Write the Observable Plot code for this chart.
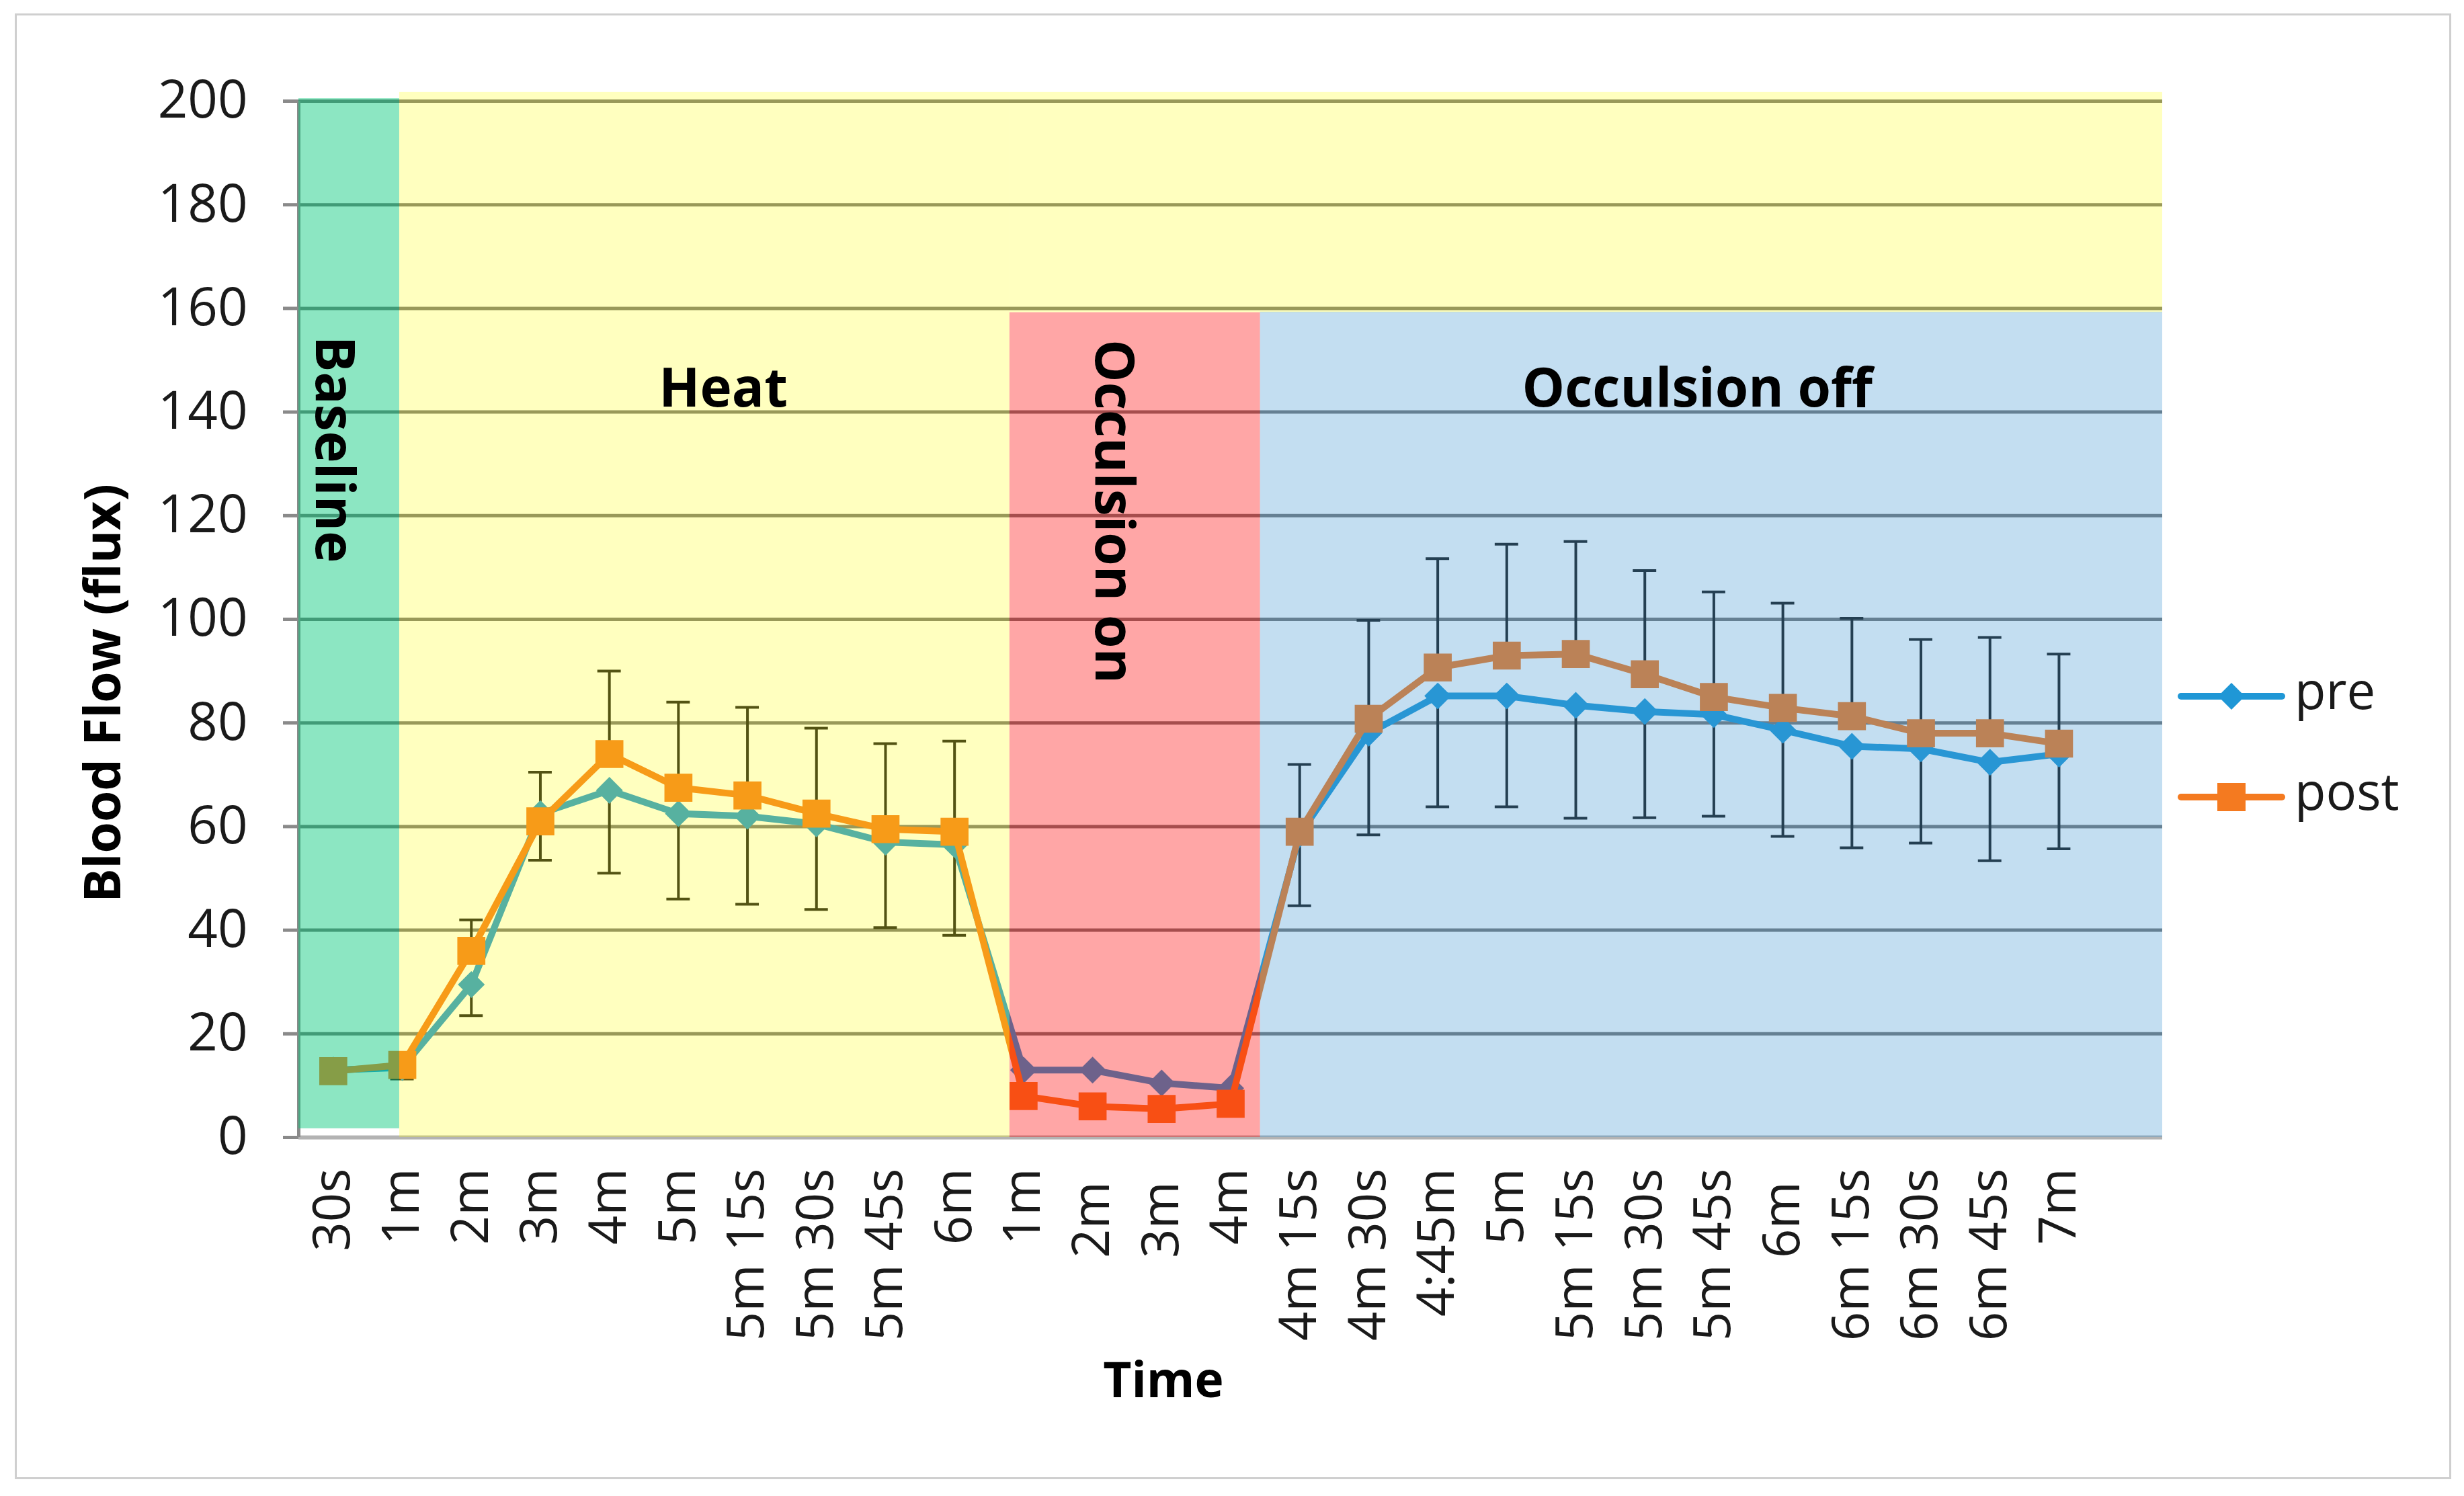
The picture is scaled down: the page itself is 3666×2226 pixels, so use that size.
<!DOCTYPE html>
<html>
<head>
<meta charset="utf-8">
<script src="https://cdn.jsdelivr.net/npm/d3@7"></script>
<script src="https://cdn.jsdelivr.net/npm/@observablehq/plot@0.6"></script>
<style>
  html, body { margin: 0; padding: 0; background: #fff; }
  #wrap { position: relative; width: 3666px; height: 2226px; font-family: "Open Sans", sans-serif; }
  #frame { position: absolute; left: 22px; top: 20px; width: 3625px; height: 2181px; border: 3px solid #cfcfcf; box-sizing: border-box; }
  #legend { position: absolute; left: 3235px; top: 960px; }
</style>
</head>
<body>
<div id="wrap">
  <div id="chart"></div>
  <div id="legend"></div>
  <div id="frame"></div>
</div>
<script>
// tick labels of the time axis (a nbsp mimics the trailing space of the original labels)
const timeLabels = ["30s", "1m", "2m", "3m", "4m", "5m", "5m 15s", "5m 30s", "5m 45s", "6m",
  "1m", "2m\u00a0", "3m\u00a0", "4m", "4m 15s", "4m 30s", "4:45m", "5m", "5m 15s", "5m 30s",
  "5m 45s", "6m\u00a0", "6m 15s", "6m 30s", "6m 45s", "7m"];

// mean blood flow
const pre  = [13, 13.5, 29.5, 62.5, 67, 62.5, 62, 60.5, 57, 56.5,
  13, 13, 10.5, 9.5, 58.5, 78, 85.2, 85.2, 83.4, 82.2, 81.6, 78.6, 75.5, 75, 72.4, 74];
const post = [12.8, 14, 36, 61, 74, 67.5, 66, 62.5, 59.5, 59,
  8, 6, 5.5, 6.5, 59, 80.8, 90.7, 93, 93.3, 89.4, 85, 82.9, 81.3, 78, 78, 76];

// error bars: pre drawn downwards, post drawn upwards
const preLow   = [12, 11.3, 23.5, 53.5, 51, 46, 45, 44, 40.5, 39,
  null, null, null, null, 44.7, 58.4, 63.8, 63.8, 61.6, 61.7, 62, 58.1, 55.9, 56.8, 53.4, 55.7];
const postHigh = [14, 15.5, 42, 70.5, 90, 84, 83, 79, 76, 76.5,
  null, null, null, null, 72, 99.8, 111.7, 114.5, 115, 109.4, 105.3, 103.1, 100.2, 96.1, 96.5, 93.3];

const seriesNames = ["pre", "post"];
const yTicks = [0, 20, 40, 60, 80, 100, 120, 140, 160, 180, 200];

// shaded phases, in data units (x = time index, y = flux)
const bandNames = ["Baseline", "Heat", "Heat", "Occulsion on", "Occulsion off"];
const bandX1 = [-0.5, 0.96, 9.8, 9.8, 13.43];
const bandX2 = [0.96, 9.8, 26.5, 13.43, 26.5];
const bandY1 = [1.7, 0, 159.2, 0, 0];
const bandY2 = [200.5, 201.7, 201.7, 159.2, 159.3];

const phaseLabels = ["Baseline", "Heat", "Occulsion on", "Occulsion off"];
const phaseLabelX = [0, 5.65, 11.29, 19.76];
const phaseLabelY = [132.8, 144.4, 120.8, 144.4];

const colors = {pre: "#1f97d6", post: "#f47a20"};
const bandStyle = {
  "Baseline":      {fill: "#00c878", opacity: 0.45},
  "Heat":          {fill: "#ffff00", opacity: 0.25},
  "Occulsion on":  {fill: "#ff0000", opacity: 0.35},
  "Occulsion off": {fill: "#3c96d2", opacity: 0.31}
};
const verticalLabels = new Set(["Baseline", "Occulsion on"]);

const points = timeLabels.map((t, i) => ({i, t, pre: pre[i], post: post[i], lo: preLow[i], hi: postHigh[i]}));
const bars = points.filter(d => d.lo != null);
const bands = bandNames.map((name, k) => ({name, x1: bandX1[k], x2: bandX2[k], y1: bandY1[k], y2: bandY2[k]}));
const labels = phaseLabels.map((text, k) => ({text, x: phaseLabelX[k], y: phaseLabelY[k]}));

const capHalf = 0.17;
const errColor = "#1a1a1a";

const plot = Plot.plot({
  width: 3666,
  height: 2226,
  marginLeft: 444,
  marginRight: 449,
  marginTop: 150,
  marginBottom: 534,
  style: {fontFamily: '"Open Sans", sans-serif', fontSize: "76px", color: "#1a1a1a", background: "transparent"},
  x: {domain: [-0.5, 26.5], axis: null},
  y: {domain: [0, 200], axis: null},
  marks: [
    // grid
    Plot.ruleY(yTicks.filter(d => d > 0), {x1: -0.5, x2: 26.5, stroke: "#777", strokeWidth: 5}),
    Plot.ruleY([0], {x1: -0.5, x2: 26.5, stroke: "#b3b3b3", strokeWidth: 6}),
    Plot.ruleX([-0.5], {y1: 0, y2: 200, stroke: "#8a8a8a", strokeWidth: 5}),
    Plot.axisY({ticks: yTicks, tickSize: 23, tickPadding: 53, stroke: "#8a8a8a", strokeWidth: 5, fontSize: 78, label: null}),
    Plot.axisX({ticks: d3.range(timeLabels.length), tickFormat: i => timeLabels[i], tickRotate: -90,
      tickSize: 0, tickPadding: 46, fontSize: 76, label: null}),

    // error bars
    Plot.ruleX(bars, {x: "i", y1: "pre", y2: "lo", stroke: errColor, strokeWidth: 4}),
    Plot.ruleY(bars, {y: "lo", x1: d => d.i - capHalf, x2: d => d.i + capHalf, stroke: errColor, strokeWidth: 4}),
    Plot.ruleX(bars, {x: "i", y1: "post", y2: "hi", stroke: errColor, strokeWidth: 4}),
    Plot.ruleY(bars, {y: "hi", x1: d => d.i - capHalf, x2: d => d.i + capHalf, stroke: errColor, strokeWidth: 4}),

    // series
    Plot.line(points, {x: "i", y: "pre", stroke: colors.pre, strokeWidth: 10}),
    Plot.dot(points, {x: "i", y: "pre", symbol: "diamond2", r: 18, fill: colors.pre, stroke: "none"}),
    Plot.line(points, {x: "i", y: "post", stroke: colors.post, strokeWidth: 10}),
    Plot.dot(points, {x: "i", y: "post", symbol: "square", r: 23.5, fill: colors.post, stroke: "none"}),

    // translucent phase overlays lie on top of the data, as in the original
    ...bands.map(b => Plot.rect([b], {x1: "x1", x2: "x2", y1: "y1", y2: "y2",
      fill: bandStyle[b.name].fill, fillOpacity: bandStyle[b.name].opacity})),

    // phase names
    Plot.text(labels.filter(d => !verticalLabels.has(d.text)), {x: "x", y: "y", text: "text",
      fontSize: 80, fontWeight: "bold", fill: "#000"}),
    Plot.text(labels.filter(d => verticalLabels.has(d.text)), {x: "x", y: "y", text: "text", rotate: 90,
      fontSize: 80, fontWeight: "bold", fill: "#000"}),

    // axis titles
    Plot.text(["Blood Flow (flux)"], {frameAnchor: "left", textAnchor: "middle", lineAnchor: "middle",
      dx: -290, dy: 110, rotate: -90, fontSize: 75, fontWeight: "bold", fill: "#000"}),
    Plot.text(["Time"], {frameAnchor: "bottom", textAnchor: "middle", lineAnchor: "middle",
      dx: -100, dy: 363, fontSize: 73, fontWeight: "bold", fill: "#000"})
  ]
});

document.getElementById("chart").appendChild(plot);

// legend on the right
const legend = d3.select("#legend").append("svg").attr("width", 420).attr("height", 280)
  .style("font-family", '"Open Sans", sans-serif');
seriesNames.forEach((name, k) => {
  const g = legend.append("g").attr("transform", `translate(0,${76 + k * 150})`);
  g.append("line").attr("x1", 10).attr("x2", 160).attr("stroke", colors[name])
    .attr("stroke-width", 10).attr("stroke-linecap", "round");
  if (name === "pre") {
    g.append("path").attr("d", "M85,-20L105,0L85,20L65,0Z").attr("fill", colors[name]);
  } else {
    g.append("rect").attr("x", 64).attr("y", -21).attr("width", 42).attr("height", 42).attr("fill", colors[name]);
  }
  g.append("text").attr("x", 179).attr("y", 0).attr("dy", "0.25em").attr("font-size", 76)
    .attr("fill", "#1a1a1a").text(name);
});
</script>
</body>
</html>
